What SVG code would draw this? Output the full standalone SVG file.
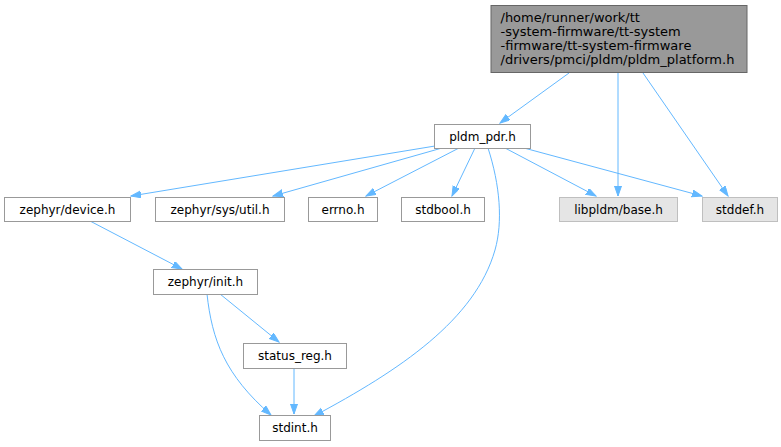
<svg xmlns="http://www.w3.org/2000/svg" width="781" height="447" viewBox="0 0 781 447">
<defs>
<marker id="ah" markerWidth="11" markerHeight="8" refX="10" refY="3.5" orient="auto" markerUnits="userSpaceOnUse">
<path d="M0,0 L10,3.5 L0,7 z" fill="#63b8ff" stroke="#63b8ff" stroke-width="1"/>
</marker>
<style>
text{font-family:"DejaVu Sans","Liberation Sans",sans-serif;font-size:12px;fill:#000}
.n rect{fill:#fff;stroke:#999;stroke-width:1}
.g rect{fill:#e5e5e5;stroke:#bfbfbf;stroke-width:1}
.r rect{fill:#999;stroke:#666;stroke-width:1}
.r text{font-size:13px}
.c{text-anchor:middle}
#edges path{fill:none;stroke:#63b8ff;stroke-width:1;marker-end:url(#ah)}
</style>
</defs>
<rect width="781" height="447" fill="#fff"/>
<g id="edges">
<path d="M569,73 L500,123"/>
<path d="M618,73 L618,196"/>
<path d="M643,73 L728,196"/>
<path d="M435,146 L131,196"/>
<path d="M442,148 L273,196"/>
<path d="M459,148 L366,196"/>
<path d="M475,148 L452,196"/>
<path d="M505,148 L596,196"/>
<path d="M524,148 L702,196"/>
<path d="M488,148 C500,185 503,222 495,250 C475,320 400,370 314,416"/>
<path d="M90,221 L182,269"/>
<path d="M220,294 L279,342"/>
<path d="M207,294 C212,340 225,375 271,415"/>
<path d="M294,368 L294,414"/>
</g>
<g id="node_root" class="r">
<rect x="491" y="5.5" width="256" height="67"/>
<text x="500.5" y="21.5">/home/runner/work/tt</text>
<text x="500.5" y="35.7">-system-firmware/tt-system</text>
<text x="500.5" y="49.9">-firmware/tt-system-firmware</text>
<text x="500.5" y="64">/drivers/pmci/pldm/pldm_platform.h</text>
</g>
<g id="node_pldm_pdr" class="n">
<rect x="434.5" y="124.5" width="96" height="24"/>
<text class="c" x="482.5" y="141">pldm_pdr.h</text>
</g>
<g id="node_device" class="n">
<rect x="4.5" y="197.5" width="126" height="24"/>
<text class="c" x="67.5" y="214">zephyr/device.h</text>
</g>
<g id="node_util" class="n">
<rect x="155.5" y="197.5" width="129" height="24"/>
<text class="c" x="220" y="214">zephyr/sys/util.h</text>
</g>
<g id="node_errno" class="n">
<rect x="308.5" y="197.5" width="69" height="24"/>
<text class="c" x="343" y="214">errno.h</text>
</g>
<g id="node_stdbool" class="n">
<rect x="401.5" y="197.5" width="83" height="24"/>
<text class="c" x="443" y="214">stdbool.h</text>
</g>
<g id="node_base" class="g">
<rect x="559.5" y="197.5" width="118" height="24"/>
<text class="c" x="618.5" y="214">libpldm/base.h</text>
</g>
<g id="node_stddef" class="g">
<rect x="702.5" y="197.5" width="75" height="24"/>
<text class="c" x="740" y="214">stddef.h</text>
</g>
<g id="node_init" class="n">
<rect x="153.5" y="269.5" width="104" height="25"/>
<text class="c" x="205.5" y="286">zephyr/init.h</text>
</g>
<g id="node_status" class="n">
<rect x="243.5" y="343.5" width="103" height="25"/>
<text class="c" x="295" y="360">status_reg.h</text>
</g>
<g id="node_stdint" class="n">
<rect x="259.5" y="415.5" width="71" height="25"/>
<text class="c" x="295" y="432">stdint.h</text>
</g>
</svg>
